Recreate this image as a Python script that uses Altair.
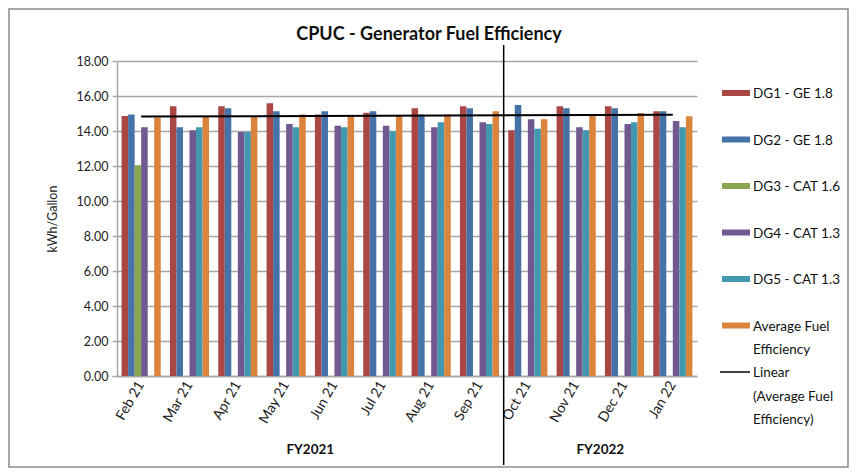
import altair as alt
import pandas as pd

months = ["Feb 21", "Mar 21", "Apr 21", "May 21", "Jun 21", "Jul 21",
          "Aug 21", "Sep 21", "Oct 21", "Nov 21", "Dec 21", "Jan 22"]
series_names = ["DG1 - GE 1.8", "DG2 - GE 1.8", "DG3 - CAT 1.6",
                "DG4 - CAT 1.3", "DG5 - CAT 1.3", "Average Fuel Efficiency"]
series_colors = ["#AA4643", "#4572A7", "#89A54E", "#71588F", "#4198AF", "#DB843D"]
trend_name = "Linear (Average Fuel Efficiency)"

dg1 = [14.86, 15.41, 15.41, 15.58, 14.95, 15.04, 15.30, 15.41, 14.04, 15.41, 15.41, 15.13]
dg2 = [14.95, 14.21, 15.30, 15.13, 15.13, 15.13, 14.95, 15.30, 15.49, 15.30, 15.30, 15.13]
dg3 = [12.05, None, None, None, None, None, None, None, None, None, None, None]
dg4 = [14.21, 14.04, 13.94, 14.40, 14.30, 14.30, 14.21, 14.50, 14.67, 14.21, 14.40, 14.57]
dg5 = [None, 14.21, 13.94, 14.21, 14.21, 13.98, 14.50, 14.40, 14.13, 14.04, 14.50, 14.21]
avg = [14.77, 14.80, 14.80, 14.95, 14.84, 14.88, 14.95, 15.13, 14.67, 14.88, 15.03, 14.84]

fy_labels = ["FY2021", "FY2022"]
y_ticks = [0, 2, 4, 6, 8, 10, 12, 14, 16, 18]

W, H = 580, 315
PAD_L, PAD_T, PAD_R, PAD_B = 109, 53, 152, 92
FONT = "Lato"
GRID = "#A6A6A6"

rows = []
for name, vals in zip(series_names, [dg1, dg2, dg3, dg4, dg5, avg]):
    for m, v in zip(months, vals):
        if v is not None:
            rows.append({"Month": m, "Series": name, "Value": v})
long_df = pd.DataFrame(rows)
wide_df = pd.DataFrame({"Month": months, "idx": list(range(len(months))), "Value": avg})

x_scale = alt.Scale(domain=months, paddingInner=0.19, paddingOuter=0.095)
y_scale = alt.Scale(domain=[0, 18], nice=False)

x_axis = alt.Axis(title=None, labelAngle=300, labelFontSize=14, labelFont=FONT,
                  labelColor="#222", labelPadding=6, ticks=False,
                  domainColor=GRID, domainWidth=1.5)
y_axis = alt.Axis(title="kWh/Gallon", values=y_ticks, format=".2f",
                  labelFontSize=12.5, labelFont=FONT, labelColor="#222",
                  labelOverlap=False,
                  tickColor=GRID, tickSize=5, tickWidth=1.5, labelPadding=4,
                  domainColor=GRID, domainWidth=1.5,
                  gridColor=GRID, gridWidth=1.5,
                  titleFont=FONT, titleFontSize=12.5, titleFontWeight="normal",
                  titleColor="#222", titleX=-65, titleY=H / 2, titleAngle=270,
                  titleAlign="center", titleBaseline="middle")

bars = alt.Chart(long_df).mark_bar().encode(
    x=alt.X("Month:N", sort=months, scale=x_scale, axis=x_axis),
    xOffset=alt.XOffset("Series:N", sort=series_names,
                        scale=alt.Scale(domain=series_names, paddingInner=0, paddingOuter=0)),
    y=alt.Y("Value:Q", scale=y_scale, axis=y_axis),
    color=alt.Color("Series:N", scale=alt.Scale(domain=series_names, range=series_colors),
                    legend=None),
)

step = W / (len(months) - 0.19 + 2 * 0.095)
trend_months_expr = "[" + ",".join("'" + m + "'" for m in months) + "][datum.idx]"
trend = alt.Chart(wide_df).transform_regression(
    "idx", "Value", method="linear"
).transform_calculate(
    Month=trend_months_expr
).mark_line(color="black", strokeWidth=2).encode(
    x=alt.X("Month:N", sort=months, scale=x_scale, axis=x_axis),
    y=alt.Y("Value:Q", scale=y_scale, axis=y_axis),
)

one = pd.DataFrame({"k": [0]})
layers = [bars, trend]

# title
layers.append(alt.Chart(one).mark_text(
    text="CPUC - Generator Fuel Efficiency", font=FONT, fontSize=18, fontWeight="bold",
    color="#111", align="center", baseline="alphabetic"
).encode(x=alt.value(312), y=alt.value(-21)))

# FY divider
div_x = 8 * step
layers.append(alt.Chart(one).mark_rule(color="black", strokeWidth=1.5).encode(
    x=alt.value(div_x), y=alt.value(-16), y2=alt.value(404)))

# FY labels
fy_centers = [4 * step, 10 * step]
for lab, cx in zip(fy_labels, fy_centers):
    layers.append(alt.Chart(one).mark_text(
        text=lab, font=FONT, fontSize=13.5, fontWeight="bold", color="#111",
        align="center", baseline="middle"
    ).encode(x=alt.value(cx), y=alt.value(389)))

# legend
leg_x0, leg_x1 = 605, 633
leg_y0, leg_step = 32, 46.5
legend_labels = ["DG1 - GE 1.8", "DG2 - GE 1.8", "DG3 - CAT 1.6", "DG4 - CAT 1.3",
                 "DG5 - CAT 1.3", "Average Fuel\nEfficiency",
                 "Linear\n(Average Fuel\nEfficiency)"]
for i, lab in enumerate(legend_labels):
    yc = leg_y0 + leg_step * i
    if i < len(series_colors):
        layers.append(alt.Chart(one).mark_rect(color=series_colors[i]).encode(
            x=alt.value(leg_x0), x2=alt.value(leg_x1),
            y=alt.value(yc - 3), y2=alt.value(yc + 3)))
    else:
        layers.append(alt.Chart(one).mark_rule(color="black", strokeWidth=1.5).encode(
            x=alt.value(leg_x0 - 2), x2=alt.value(leg_x1), y=alt.value(yc)))
    layers.append(alt.Chart(one).mark_text(
        text=lab, lineBreak="\n", lineHeight=23.5, font=FONT, fontSize=13.5,
        color="#111", align="left", baseline="alphabetic"
    ).encode(x=alt.value(leg_x1 + 3), y=alt.value(yc + 5)))

# outer border
layers.append(alt.Chart(one).mark_rect(fill="transparent", stroke="#8C8C8C", strokeWidth=1.5).encode(
    x=alt.value(-PAD_L + 1), x2=alt.value(W + PAD_R - 1),
    y=alt.value(-PAD_T + 1), y2=alt.value(H + PAD_B - 1)))

chart = alt.layer(*layers).properties(
    width=W, height=H,
    autosize=alt.AutoSizeParams(type="none"),
    padding={"left": PAD_L, "top": PAD_T, "right": PAD_R, "bottom": PAD_B},
).configure_view(stroke=None).configure_axis(labelFont=FONT, titleFont=FONT)

chart.save("out.html", embed_options={"renderer": "svg", "actions": False})
